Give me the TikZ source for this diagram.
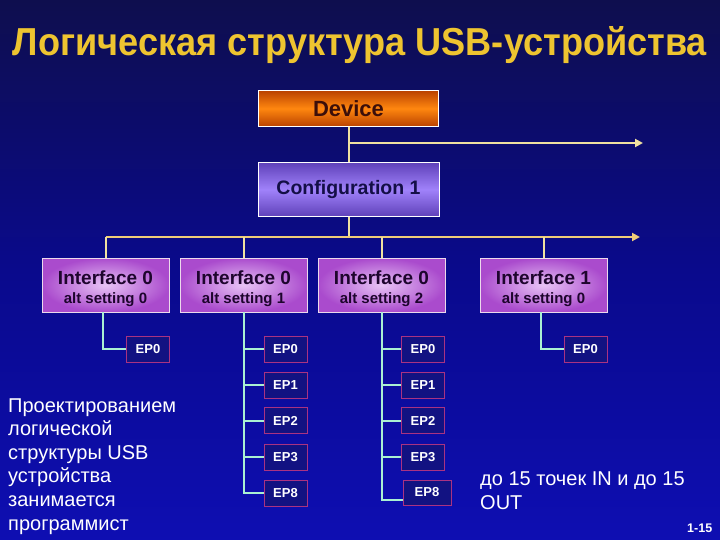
\documentclass[tikz,border=0pt]{standalone}
\usepackage{fontspec}
\setmainfont{Liberation Sans}
\usepackage{graphicx}
\usetikzlibrary{arrows.meta}
\definecolor{bgtop}{RGB}{14,14,78}
\definecolor{bgmid}{RGB}{10,10,140}
\definecolor{bgbot}{RGB}{14,14,178}
\definecolor{titlecol}{RGB}{238,196,48}
\definecolor{devdark}{RGB}{185,65,0}
\definecolor{devlight}{RGB}{255,135,15}
\definecolor{devtext}{RGB}{60,15,10}
\definecolor{cfgdark}{RGB}{95,65,185}
\definecolor{cfglight}{RGB}{160,130,250}
\definecolor{cfgtext}{RGB}{20,15,70}
\definecolor{ifin}{RGB}{232,195,245}
\definecolor{ifout}{RGB}{170,75,205}
\definecolor{iftext}{RGB}{30,5,45}
\definecolor{epfill}{RGB}{18,18,130}
\definecolor{epborder}{RGB}{170,50,130}
\definecolor{ylinecol}{RGB}{240,225,160}
\definecolor{buscol}{RGB}{240,205,120}
\definecolor{glinecol}{RGB}{170,240,210}
\tikzset{
  devbox/.style={draw=white, line width=0.8pt, top color=devdark, bottom color=devdark, middle color=devlight,
    text=devtext, font=\fontsize{22}{22}\selectfont\bfseries, inner sep=0pt, minimum width=180pt, minimum height=36pt},
  cfgbox/.style={draw=white, line width=0.8pt, top color=cfgdark, bottom color=cfgdark, middle color=cfglight,
    text=cfgtext, font=\fontsize{19.5}{20}\selectfont\bfseries, inner sep=0pt, minimum width=181pt, minimum height=54pt},
  ifbox/.style={draw=white!85!violet, line width=0.8pt, inner color=ifin, outer color=ifout,
    text=iftext, font=\fontsize{19}{19.5}\selectfont\bfseries, align=center, inner sep=0pt, minimum width=127pt, minimum height=54pt},
  epbox/.style={draw=epborder, line width=0.8pt, fill=epfill, text=white,
    font=\fontsize{13}{13}\selectfont\bfseries, inner sep=0pt, minimum width=43pt, minimum height=26pt},
  yline/.style={draw=ylinecol, line width=2pt},
  busline/.style={draw=buscol, line width=2pt},
  gline/.style={draw=glinecol, line width=2pt},
  tip/.style={-{Triangle[length=8pt,width=8pt]}},
  plain/.style={text=white, font=\fontsize{20}{23.6}\selectfont, align=left, inner sep=0pt},
}
\newcommand{\altset}[1]{{\fontsize{15}{19.5}\selectfont #1}}
\newcommand{\iftop}{\rule{0pt}{21pt}}
\begin{document}
\begin{tikzpicture}[x=1pt,y=-1pt]
\useasboundingbox (0,0) rectangle (720,540);
\shade[top color=bgtop, bottom color=bgbot, middle color=bgmid] (0,0) rectangle (720,540);

% title
\node[anchor=base, text=titlecol, inner sep=0pt] (title) at (360,56)
  {\resizebox{694pt}{\height}{\fontsize{39}{39}\selectfont\bfseries Логическая структура USB-устройства}};

% device and configuration
\node[devbox] (dev) at (348.5,108.5) {Device};
\node[cfgbox] (cfg) at (348.5,189.5) {Configuration 1};

\coordinate (devj) at (348.5,143);
\coordinate (devarr) at (643,143);
\coordinate (cfgj) at (348.5,237);
\coordinate (busL) at (105.5,237);
\coordinate (busR) at (640,237);

% interfaces
\node[ifbox] (if1) at (105.5,285) {\iftop Interface 0\\\altset{alt setting 0}};
\node[ifbox] (if2) at (243.5,285) {\iftop Interface 0\\\altset{alt setting 1}};
\node[ifbox] (if3) at (381.5,285) {\iftop Interface 0\\\altset{alt setting 2}};
\node[ifbox] (if4) at (543.5,285) {\iftop Interface 1\\\altset{alt setting 0}};

\draw[yline] (dev.south) -- (cfg.north);
\draw[yline, tip, draw=ylinecol, fill=ylinecol] (devj) -- (devarr);
\draw[yline] (cfg.south) -- (cfgj);
\draw[busline, tip] (busL) -- (busR);
\foreach \i in {1,2,3,4} {
  \draw[yline] (if\i.north |- busL) -- (if\i.north);
}

% endpoints
\node[epbox] (ep10) at (148,349) {EP0};

\node[epbox] (ep20) at (285.5,349) {EP0};
\node[epbox] (ep21) at (285.5,385) {EP1};
\node[epbox] (ep22) at (285.5,420.5) {EP2};
\node[epbox] (ep23) at (285.5,457) {EP3};
\node[epbox] (ep28) at (285.5,493) {EP8};

\node[epbox] (ep30) at (423,349) {EP0};
\node[epbox] (ep31) at (423,385) {EP1};
\node[epbox] (ep32) at (423,420.5) {EP2};
\node[epbox] (ep33) at (423,457) {EP3};
\node[epbox, minimum width=48pt, minimum height=25pt] (ep38) at (427,492.5) {EP8};

\node[epbox] (ep40) at (585.5,349) {EP0};

\draw[gline] ([xshift=-3pt]if1.south) |- (ep10.west);
\draw[gline] (if2.south) |- (ep28.west);
\foreach \j in {20,21,22,23} {
  \draw[gline] (if2.south |- ep\j.west) -- (ep\j.west);
}
\draw[gline] (if3.south) |- ([yshift=-7pt]ep38.west);
\foreach \j in {30,31,32,33} {
  \draw[gline] (if3.south |- ep\j.west) -- (ep\j.west);
}
\draw[gline] ([xshift=-3pt]if4.south) |- (ep40.west);

% texts
\node[plain, anchor=base west] (note) at (8,530)
  {Проектированием\\логической\\структуры USB\\устройства\\занимается\\программист};
\node[plain, anchor=base west, font=\fontsize{20}{24}\selectfont] (count) at (480,509)
  {до 15 точек IN и до 15\\OUT};
\node[text=white, font=\fontsize{12.5}{12.5}\selectfont\bfseries, anchor=base west, inner sep=0pt] (pageno) at (687,532.5) {1-15};
\end{tikzpicture}
\end{document}
